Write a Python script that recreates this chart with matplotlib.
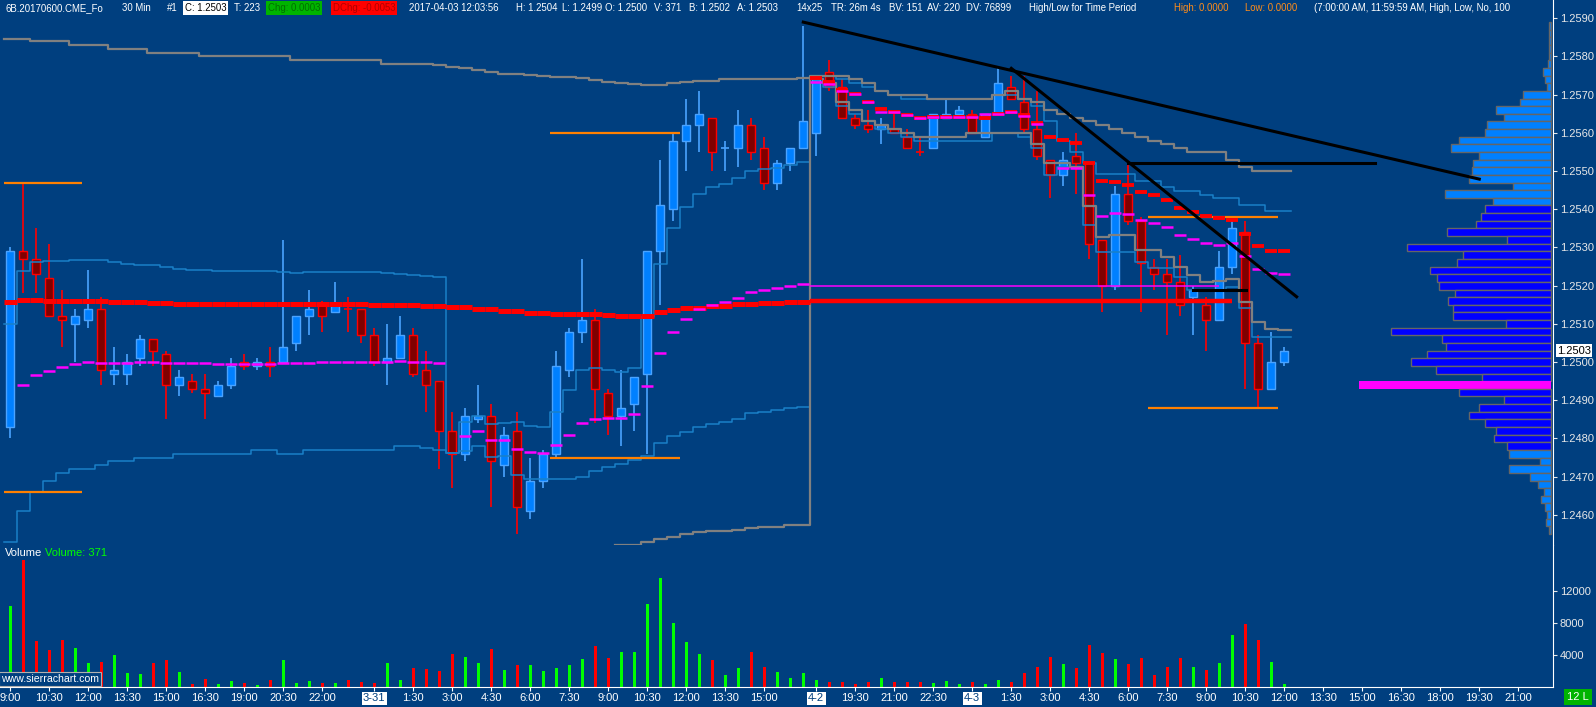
import numpy as np
import matplotlib
matplotlib.use("Agg")
import matplotlib.pyplot as plt
from matplotlib.patches import Rectangle

plt.rcParams["font.family"] = ["Liberation Sans", "DejaVu Sans"]

BG = "#003f7f"
W, H = 1596, 707

# ---- 30 min bars, 6B (Mar 30 09:00 .. Apr 3 12:00) ----
opens = [1.2483, 1.2529, 1.2527, 1.2522, 1.2512, 1.2510, 1.2511, 1.2514, 1.2497, 1.2497,
         1.2501, 1.2506, 1.2502, 1.2494, 1.2495, 1.2493, 1.2491, 1.2494, 1.2500, 1.2499,
         1.2500, 1.2500, 1.2505, 1.2512, 1.2515, 1.2513, 1.2514, 1.2514, 1.2507, 1.2500,
         1.2501, 1.2507, 1.2498, 1.2495, 1.2482, 1.2476, 1.2485, 1.2486, 1.2473, 1.2482,
         1.2461, 1.2469, 1.2476, 1.2498, 1.2508, 1.2511, 1.2492, 1.2486, 1.2489, 1.2497,
         1.2529, 1.2540, 1.2558, 1.2562, 1.2564, 1.2556, 1.2556, 1.2562, 1.2556, 1.2547,
         1.2552, 1.2556, 1.2560, 1.2576, 1.2572, 1.2564, 1.2562, 1.2561, 1.2561, 1.2559,
         1.2555, 1.2556, 1.2564, 1.2565, 1.2565, 1.2559, 1.2565, 1.2572, 1.2568, 1.2561,
         1.2553, 1.2549, 1.2554, 1.2552, 1.2532, 1.2520, 1.2544, 1.2537, 1.2525, 1.2523,
         1.2521, 1.2517, 1.2515, 1.2511, 1.2525, 1.2534, 1.2505, 1.2493, 1.2500]
highs = [1.2530, 1.2547, 1.2535, 1.2531, 1.2519, 1.2514, 1.2524, 1.2517, 1.2504, 1.2502,
         1.2507, 1.2506, 1.2503, 1.2498, 1.2497, 1.2497, 1.2495, 1.2501, 1.2502, 1.2501,
         1.2504, 1.2532, 1.2512, 1.2519, 1.2516, 1.2521, 1.2517, 1.2514, 1.2509, 1.2510,
         1.2512, 1.2509, 1.2503, 1.2495, 1.2487, 1.2488, 1.2494, 1.2489, 1.2483, 1.2487,
         1.2475, 1.2477, 1.2503, 1.2509, 1.2527, 1.2514, 1.2493, 1.2498, 1.2496, 1.2529,
         1.2553, 1.2560, 1.2569, 1.2571, 1.2564, 1.2558, 1.2566, 1.2564, 1.2559, 1.2553,
         1.2556, 1.2588, 1.2575, 1.2579, 1.2574, 1.2565, 1.2566, 1.2564, 1.2565, 1.2561,
         1.2559, 1.2565, 1.2569, 1.2567, 1.2566, 1.2565, 1.2577, 1.2575, 1.2575, 1.2571,
         1.2553, 1.2555, 1.2560, 1.2552, 1.2532, 1.2546, 1.2552, 1.2538, 1.2527, 1.2527,
         1.2528, 1.2520, 1.2517, 1.2529, 1.2537, 1.2537, 1.2507, 1.2508, 1.2504]
lows = [1.2480, 1.2518, 1.2518, 1.2512, 1.2504, 1.2500, 1.2509, 1.2494, 1.2494, 1.2494,
        1.2499, 1.2499, 1.2485, 1.2491, 1.2492, 1.2485, 1.2491, 1.2493, 1.2498, 1.2498,
        1.2496, 1.2500, 1.2503, 1.2507, 1.2508, 1.2513, 1.2508, 1.2505, 1.2499, 1.2494,
        1.2501, 1.2496, 1.2487, 1.2472, 1.2467, 1.2474, 1.2484, 1.2462, 1.2470, 1.2455,
        1.2459, 1.2467, 1.2475, 1.2496, 1.2505, 1.2484, 1.2481, 1.2478, 1.2482, 1.2476,
        1.2515, 1.2537, 1.2550, 1.2555, 1.2550, 1.2550, 1.2551, 1.2553, 1.2545, 1.2545,
        1.2550, 1.2556, 1.2554, 1.2571, 1.2564, 1.2561, 1.2560, 1.2557, 1.2560, 1.2556,
        1.2554, 1.2556, 1.2564, 1.2565, 1.2560, 1.2559, 1.2565, 1.2569, 1.2560, 1.2553,
        1.2543, 1.2546, 1.2544, 1.2527, 1.2513, 1.2519, 1.2536, 1.2513, 1.2519, 1.2507,
        1.2512, 1.2507, 1.2503, 1.2511, 1.2523, 1.2493, 1.2488, 1.2493, 1.2499]
closes = [1.2529, 1.2527, 1.2523, 1.2512, 1.2511, 1.2512, 1.2514, 1.2498, 1.2498, 1.2500,
          1.2506, 1.2503, 1.2494, 1.2496, 1.2493, 1.2492, 1.2494, 1.2499, 1.2499, 1.2500,
          1.2499, 1.2504, 1.2512, 1.2514, 1.2512, 1.2515, 1.2514, 1.2507, 1.2500, 1.2501,
          1.2507, 1.2497, 1.2494, 1.2482, 1.2476, 1.2486, 1.2486, 1.2474, 1.2481, 1.2462,
          1.2469, 1.2476, 1.2499, 1.2508, 1.2511, 1.2493, 1.2486, 1.2488, 1.2496, 1.2529,
          1.2541, 1.2558, 1.2562, 1.2565, 1.2555, 1.2556, 1.2562, 1.2555, 1.2547, 1.2552,
          1.2556, 1.2563, 1.2574, 1.2572, 1.2564, 1.2562, 1.2561, 1.2562, 1.2560, 1.2556,
          1.2555, 1.2565, 1.2565, 1.2566, 1.2560, 1.2565, 1.2573, 1.2569, 1.2561, 1.2554,
          1.2549, 1.2553, 1.2552, 1.2531, 1.2520, 1.2544, 1.2537, 1.2526, 1.2523, 1.2521,
          1.2515, 1.2519, 1.2511, 1.2525, 1.2535, 1.2505, 1.2493, 1.2500, 1.2503]
volume = [10100, 15900, 5750, 4600, 5900, 4900, 3000, 3100, 4000, 1750,
          1600, 3000, 3400, 1900, 380, 1000, 380, 750, 460, 250,
          880, 3400, 540, 750, 460, 540, 880, 670, 540, 2960,
          880, 2420, 2250, 2000, 4130, 3790, 2960, 4750, 2130, 2750,
          2750, 2000, 2420, 2750, 3540, 5170, 3670, 4420, 4420, 10420,
          13670, 8040, 5670, 4170, 3420, 1540, 2420, 4420, 2540, 1920,
          1170, 1790, 920, 670, 580, 420, 670, 1170, 670, 580,
          580, 540, 790, 420, 670, 420, 920, 580, 1790, 2540,
          3790, 2920, 2420, 5290, 4290, 3540, 2920, 3670, 1500, 2540,
          3670, 2540, 2170, 3040, 6500, 7920, 5920, 3130, 371]

# ---- studies ----
# thick red average, first part (bars 0..61) and new session (bars 62..98)
red_a = [1.25158, 1.25163, 1.25163, 1.25161, 1.25161, 1.25161, 1.25161, 1.25161, 1.25158, 1.25158,
         1.25158, 1.25155, 1.25155, 1.25153, 1.25153, 1.25153, 1.25153, 1.25153, 1.25153, 1.25153,
         1.25153, 1.25153, 1.25153, 1.25153, 1.25153, 1.25153, 1.25153, 1.25153, 1.25150, 1.25150,
         1.25150, 1.25150, 1.25148, 1.25148, 1.25144, 1.25144, 1.25140, 1.25140, 1.25135, 1.25135,
         1.25129, 1.25129, 1.25127, 1.25127, 1.25127, 1.25127, 1.25124, 1.25121, 1.25121, 1.25121,
         1.25132, 1.25137, 1.25142, 1.25142, 1.25147, 1.25147, 1.25151, 1.25151, 1.25155, 1.25155,
         1.25158, 1.25158]
red_b = [1.25744, 1.25734, 1.25711, 1.25703, 1.25682, 1.25662, 1.25654, 1.25648, 1.25640, 1.25642,
         1.25642, 1.25642, 1.25642, 1.25640, 1.25650, 1.25654, 1.25647, 1.25625, 1.25590, 1.25581,
         1.25574, 1.25522, 1.25475, 1.25472, 1.25464, 1.25446, 1.25438, 1.25424, 1.25404, 1.25393,
         1.25383, 1.25376, 1.25373, 1.25335, 1.25305, 1.25292, 1.25292]
red_prev = 1.25161

# magenta vwap per session (nan = hidden)
vwap_1 = [np.nan, 1.24940, 1.24966, 1.24977, 1.24987, 1.24995, 1.25000, 1.24997, 1.24997, 1.24997,
          1.25000, 1.25000, 1.24997, 1.24997, 1.24997, 1.24997, 1.24995, 1.24995, 1.24995, 1.24995,
          1.24995, 1.24997, 1.24997, 1.24997, 1.25000, 1.25000, 1.25000, 1.25000, 1.25000, 1.25000,
          1.25003, 1.25000, 1.25000, 1.24997]
vwap_2 = [np.nan, 1.24807, 1.24820, 1.24796, 1.24796, 1.24773, 1.24765, 1.24763, 1.24783, 1.24809,
          1.24841, 1.24851, 1.24854, 1.24854, 1.24864, 1.24937, 1.25025, 1.25080, 1.25114, 1.25138,
          1.25150, 1.25158, 1.25169, 1.25184, 1.25190, 1.25195, 1.25200, 1.25205]
vwap_3 = [1.25734, 1.25727, 1.25710, 1.25703, 1.25682, 1.25656, 1.25656, 1.25648, 1.25640, 1.25642,
          1.25642, 1.25642, 1.25642, 1.25649, 1.25649, 1.25654, 1.25645, 1.25624, np.nan, 1.25509,
          1.25509, 1.25437, 1.25383, 1.25390, 1.25388, 1.25373, 1.25364, 1.25354, 1.25333, 1.25322,
          1.25312, 1.25307, 1.25312, 1.25279, 1.25244, 1.25233, 1.25231]
vwap_prev = 1.25200

# blue std bands
band_up_1 = [1.25099, 1.25238, 1.25261, 1.25265, 1.25265, 1.25267, 1.25267, 1.25267, 1.25261, 1.25256,
             1.25253, 1.25253, 1.25248, 1.25243, 1.25241, 1.25241, 1.25238, 1.25238, 1.25238, 1.25238,
             1.25238, 1.25235, 1.25232, 1.25235, 1.25235, 1.25235, 1.25235, 1.25235, 1.25235, 1.25232,
             1.25230, 1.25227, 1.25225, 1.25222]
band_up_2 = [1.24761, 1.24844, 1.24859, 1.24838, 1.24840, 1.24844, 1.24833, 1.24829, 1.24870, 1.24927,
             1.24979, 1.24984, 1.24979, 1.24975, 1.24984, 1.25119, 1.25257, 1.25350, 1.25405, 1.25439,
             1.25458, 1.25465, 1.25481, 1.25500, 1.25505, 1.25507, 1.25516, 1.25523]
band_up_3 = [1.2575, 1.2575, 1.2574, 1.2573, 1.2572, 1.2571, 1.2570, 1.2569, 1.2569, 1.2569,
             1.2569, 1.2569, 1.2569, 1.2569, 1.2570, 1.2570, 1.2569, 1.2567, 1.2563, 1.2558,
             1.2555, 1.2552, 1.25492, 1.25492, 1.25492, 1.25475, 1.25475, 1.25458, 1.25449, 1.25449,
             1.25437, 1.25429, 1.25429, 1.25411, 1.25411, 1.25396, 1.25396]
band_lo_1 = [1.2453, 1.2461, 1.2466, 1.2469, 1.2471, 1.2472, 1.2472, 1.2473, 1.2474, 1.2474,
             1.2475, 1.2475, 1.2475, 1.2476, 1.2476, 1.2476, 1.2476, 1.2476, 1.2476, 1.2477,
             1.2477, 1.2476, 1.2476, 1.2477, 1.2477, 1.2477, 1.2477, 1.2477, 1.2477, 1.2477,
             1.2478, 1.2478, 1.24774, 1.24771]
band_lo_2 = [1.24761, 1.24768, 1.24781, 1.24751, 1.24754, 1.24704, 1.24694, 1.24693, 1.24694, 1.24694,
             1.24700, 1.24716, 1.24725, 1.24732, 1.24744, 1.24754, 1.24789, 1.24807, 1.24818, 1.24829,
             1.24838, 1.24844, 1.24850, 1.24866, 1.24870, 1.24875, 1.24879, 1.24883]
band_lo_3 = [1.2574, 1.2572, 1.2567, 1.2565, 1.2563, 1.2561, 1.2560, 1.2559, 1.2558, 1.2558,
             1.2558, 1.2558, 1.2558, 1.2558, 1.2560, 1.2560, 1.2559, 1.2556, 1.2549, 1.2551,
             1.2551, 1.25359, 1.25289, 1.25289, 1.25289, 1.25263, 1.25246, 1.25246, 1.25224, 1.25189,
             1.25189, 1.25189, 1.25197, 1.25141, 1.25067, 1.25067, 1.25067]

# gray envelope
gray_up_a = [1.25845, 1.25845, 1.2584, 1.2584, 1.2584, 1.2583, 1.2583, 1.2583, 1.2582, 1.2582,
             1.2582, 1.2581, 1.2581, 1.2581, 1.2581, 1.2580, 1.2580, 1.2580, 1.2580, 1.2580,
             1.2580, 1.2580, 1.2579, 1.2579, 1.2579, 1.2579, 1.2579, 1.2579, 1.2579, 1.2578,
             1.2578, 1.2578, 1.25781, 1.25777, 1.25773, 1.25769, 1.25764, 1.25759, 1.25755, 1.25753,
             1.25751, 1.25749, 1.25746, 1.25746, 1.25744, 1.25738, 1.25734, 1.25731, 1.25728, 1.25726,
             1.25726, 1.25730, 1.25734, 1.25737, 1.25737, 1.25740, 1.25740, 1.25742, 1.25742, 1.25742,
             1.25742, 1.25745]
gray_up_b = [1.2575, 1.2575, 1.2575, 1.2574, 1.2573, 1.2571, 1.2570, 1.2570, 1.2570, 1.2569,
             1.2569, 1.2569, 1.2569, 1.2569, 1.2570, 1.2571, 1.2569, 1.2568, 1.2566, 1.2565,
             1.2564, 1.2563, 1.2562, 1.2561, 1.2560, 1.2559, 1.2558, 1.2557, 1.2556, 1.2555,
             1.2555, 1.2555, 1.2553, 1.2551, 1.2550, 1.2550, 1.2550]
gray_lo_a = [1.2452, 1.2452, 1.2453, 1.24537, 1.24541, 1.24550, 1.24555, 1.24559, 1.24559, 1.24560,
             1.24566, 1.24569, 1.24569, 1.24573, 1.24573]          # bars 47..61
gray_lo_b = [1.2574, 1.2573, 1.2568, 1.2566, 1.2563, 1.2562, 1.2561, 1.2560, 1.2559, 1.2559,
             1.2559, 1.2559, 1.2560, 1.2560, 1.2560, 1.2560, 1.2560, 1.2557, 1.2552, 1.2552,
             1.2551, 1.25409, 1.25328, 1.25333, 1.25333, 1.25293, 1.25293, 1.25276, 1.25248, 1.25228,
             1.25210, 1.25213, 1.25217, 1.25158, 1.25104, 1.25086, 1.25084]

# high/low for time period 7:00-11:59 (first bar, last bar, high, low)
period_start = [-0.5, 41.5, 87.5]
period_end = [5.5, 51.5, 97.5]
period_high = [1.2547, 1.2560, 1.2538]
period_low = [1.2466, 1.2475, 1.2488]

# hand drawn lines (bar, price) anchors
trend_lines = [((61.0, 1.25890), (113.0, 1.25479)),
               ((77.0, 1.25769), (98.95, 1.25171)),
               ((86.0, 1.25522), (105.0, 1.25522)),
               ((91.0, 1.25189), (95.05, 1.25189))]

# volume profile
prof_price = [1.2588, 1.2586, 1.2584, 1.2582, 1.2580, 1.2578, 1.2576, 1.2574, 1.2572, 1.2570,
              1.2568, 1.2566, 1.2564, 1.2562, 1.2560, 1.2558, 1.2556, 1.2554, 1.2552, 1.2550,
              1.2548, 1.2546, 1.2544, 1.2542, 1.2540, 1.2538, 1.2536, 1.2534, 1.2532, 1.2530,
              1.2528, 1.2526, 1.2524, 1.2522, 1.2520, 1.2518, 1.2516, 1.2514, 1.2512, 1.2510,
              1.2508, 1.2506, 1.2504, 1.2502, 1.2500, 1.2498, 1.2496, 1.2494, 1.2492, 1.2490,
              1.2488, 1.2486, 1.2484, 1.2482, 1.2480, 1.2478, 1.2476, 1.2474, 1.2472, 1.2470,
              1.2468, 1.2466, 1.2464, 1.2462, 1.2460, 1.2458, 1.2456]
prof_vol = [17, 17, 17, 17, 17, 27, 77, 57, 37, 277,
            307, 547, 467, 643, 657, 917, 1003, 717, 777, 787,
            817, 377, 1057, 577, 663, 703, 753, 1043, 443, 1443,
            877, 943, 1210, 1143, 1123, 957, 1033, 983, 983, 453,
            1603, 1090, 1053, 1243, 1403, 1153, 690, 1920, 923, 467,
            723, 823, 663, 553, 573, 440, 417, 107, 423, 207,
            127, 67, 97, 57, 40, 47, 17]
VA_HIGH, VA_LOW, POC = 1.2540, 1.2478, 1.2494

# time axis
tick_bars = [0, 3, 6, 9, 12, 15, 18, 21, 24, 28, 31, 34, 37, 40, 43, 46, 49, 52, 55, 58,
             62, 65, 68, 71, 74, 77, 80, 83, 86, 89, 92, 95, 98, 101, 104, 107, 110, 113, 116]
tick_labels = ["9:00", "10:30", "12:00", "13:30", "15:00", "16:30", "19:00", "20:30", "22:00", "3-31",
               "1:30", "3:00", "4:30", "6:00", "7:30", "9:00", "10:30", "12:00", "13:30", "15:00",
               "4-2", "19:30", "21:00", "22:30", "4-3", "1:30", "3:00", "4:30", "6:00", "7:30",
               "9:00", "10:30", "12:00", "13:30", "15:00", "16:30", "18:00", "19:30", "21:00"]
date_labels = ["3-31", "4-2", "4-3"]
price_ticks = [1.2460, 1.2470, 1.2480, 1.2490, 1.2500, 1.2510, 1.2520,
               1.2530, 1.2540, 1.2550, 1.2560, 1.2570, 1.2580, 1.2590]
last_price = 1.2503


def steps(vals, start):
    v = np.asarray(vals, float)
    i = np.arange(len(v)) + start
    return np.column_stack([i - 0.5, i + 0.5]).ravel(), np.repeat(v, 2)


fig = plt.figure(figsize=(W / 100, H / 100), dpi=100, facecolor=BG)
ax = fig.add_axes([0, 162 / H, 1553 / W, 545 / H], facecolor=BG)
axv = fig.add_axes([0, 20 / H, 1553 / W, 142 / H], facecolor=BG, sharex=ax)

ax.set_xlim(-0.792, 118.67)
ax.set_ylim(1.245212, 1.259479)
axv.set_ylim(0, 17750)

# volume profile (right side, anchored at the price scale)
x_right = 118.52
for p, v in zip(prof_price, prof_vol):
    w = v / 10 / 13
    if abs(p - POC) < 1e-6:
        ax.barh(p, -w, left=x_right, height=0.0002, color="#ff00ff", lw=0, zorder=1.5)
    else:
        col = "#0000ff" if VA_LOW - 1e-6 <= p <= VA_HIGH + 1e-6 else "#0080ff"
        ax.barh(p, -w, left=x_right, height=0.0002, color=col,
                edgecolor="#666666", lw=1.0, zorder=1.5)

# candles
up_flags = []
prev_c = opens[0]
for i, (o, h, l, c) in enumerate(zip(opens, highs, lows, closes)):
    up = c > o or (c == o and c >= prev_c)
    prev_c = c
    up_flags.append(up)
    wick = "#4aa3ff" if up else "#ff0000"
    ax.vlines(i, l, h, color=wick, lw=1.2, zorder=2)
    if c == o:
        ax.hlines(o, i - 0.31, i + 0.31, color=wick, lw=1.2, zorder=2.5)
    elif up:
        ax.add_patch(Rectangle((i - 0.31, o), 0.62, c - o, facecolor="#0080ff",
                               edgecolor="#4aa3ff", lw=1.0, zorder=2.5))
    else:
        ax.add_patch(Rectangle((i - 0.31, c), 0.62, o - c, facecolor="#800000",
                               edgecolor="#ff0000", lw=1.0, zorder=2.5))

# bands
band_up = band_up_1 + band_up_2 + band_up_3
band_lo = band_lo_1 + band_lo_2 + band_lo_3
for vals in (band_up, band_lo):
    x, y = steps(vals, 0)
    ax.plot(x, y, color="#1a80c8", lw=1.1, zorder=3)
x, y = steps(gray_up_a + gray_up_b, 0)
ax.plot(x, y, color="#808080", lw=1.6, zorder=3.1)
x, y = steps(gray_lo_a + gray_lo_b, 47)
ax.plot(x, y, color="#808080", lw=1.6, zorder=3.1)

# red average
ia = np.arange(len(red_a))
ax.hlines(red_a, ia - 0.5, ia + 0.5, color="#ff0000", lw=3.6, zorder=4)
ib = np.arange(len(red_b)) + 62
ax.hlines(red_b, ib - 0.45, ib + 0.45, color="#ff0000", lw=2.8, zorder=4)
ax.hlines(red_prev, 61.5, 94.0, color="#ff0000", lw=3.2, zorder=4)

# vwap dashes
vw = np.array(vwap_1 + vwap_2 + vwap_3)
iv = np.arange(len(vw))
ok = ~np.isnan(vw)
ax.hlines(vw[ok], iv[ok] - 0.45, iv[ok] + 0.45, color="#ff00ff", lw=1.8, zorder=5)
ax.hlines(vwap_prev, 61.5, 93.0, color="#ff00ff", lw=1.1, zorder=5)

# period high / low
for s, e, hi, lo in zip(period_start, period_end, period_high, period_low):
    ax.hlines([hi, lo], s, e, color="#ff8000", lw=1.6, zorder=3.5)

# trend lines
for (x0, y0), (x1, y1) in trend_lines:
    ax.plot([x0, x1], [y0, y1], color="black", lw=2.2, zorder=6)

# volume bars
vcol = ["#00ff00" if u else "#ff0000" for u in up_flags]
axv.bar(np.arange(len(volume)), volume, width=0.22, color=vcol, zorder=2)

# axes styling
for a in (ax, axv):
    for s in a.spines.values():
        s.set_visible(False)
    a.spines["right"].set_visible(True)
    a.spines["right"].set_color("white")
axv.spines["bottom"].set_visible(True)
axv.spines["bottom"].set_color("white")

ax.yaxis.tick_right()
ax.set_yticks(price_ticks)
ax.set_yticklabels([f"{t:.4f}" for t in price_ticks])
ax.tick_params(axis="y", colors="#e8e8e8", labelsize=8, length=3, pad=2)
ax.tick_params(axis="x", bottom=False, labelbottom=False)

axv.yaxis.tick_right()
axv.set_yticks([4000, 8000, 12000])
axv.set_yticklabels(["4000", "8000", "12000"])
axv.tick_params(axis="y", colors="#e8e8e8", labelsize=8, length=3, pad=2)
axv.set_xticks(tick_bars)
axv.set_xticklabels(tick_labels)
axv.tick_params(axis="x", colors="white", labelsize=8, length=3, pad=1.5)
for lab in axv.get_xticklabels():
    if lab.get_text() in date_labels:
        lab.set_color(BG)
        lab.set_bbox(dict(facecolor="white", edgecolor="none", pad=1.0))

ax.text(1.0025, last_price, f"{last_price:.4f}", transform=ax.get_yaxis_transform(),
        ha="left", va="center", fontsize=8, color="black", zorder=10, clip_on=False,
        bbox=dict(facecolor="white", edgecolor="none", pad=1.0))

# header line
def head(px, s, color="white", box=None):
    ax.text(px / 1553, 1 - 8 / 545, s, transform=ax.transAxes, ha="left", va="center",
            fontsize=6.9, color=color, bbox=box, clip_on=True, zorder=12)


head(5, "6B.20170600.CME_Fo")
head(122, "30 Min")
head(167, "#1")
head(185, "C: 1.2503", "black", dict(facecolor="white", edgecolor="none", pad=1.2))
head(234, "T: 223")
head(268, "Chg: 0.0003", "#007000", dict(facecolor="#00b400", edgecolor="none", pad=1.2))
head(333, "DChg: -0.0053", "#b00000", dict(facecolor="#ff0000", edgecolor="none", pad=1.2))
head(409, "2017-04-03 12:03:56")
head(516, "H: 1.2504")
head(562, "L: 1.2499")
head(605, "O: 1.2500")
head(654, "V: 371")
head(689, "B: 1.2502")
head(737, "A: 1.2503")
head(796, "14x25")
head(831, "TR: 26m 4s")
head(889, "BV: 151")
head(927, "AV: 220")
head(966, "DV: 76899")
head(1029, "High/Low for Time Period")
head(1174, "High: 0.0000", "#ff8c1a")
head(1245, "Low: 0.0000", "#ff8c1a")
head(1314, "(7:00:00 AM, 11:59:59 AM, High, Low, No, 100")

axv.text(5 / 1553, (687 - 553) / 142, "Volume", transform=axv.transAxes, ha="left",
         va="center", fontsize=8, color="white")
axv.text(45 / 1553, (687 - 553) / 142, "Volume: 371", transform=axv.transAxes, ha="left",
         va="center", fontsize=8, color="#00ff00")

fig.text(1 / W, 1 - 679 / H, "www.sierrachart.com", color="white", fontsize=7.6, va="center",
         ha="left", bbox=dict(facecolor=BG, edgecolor="#b0b0b0", lw=0.8, pad=1.5), zorder=10)
fig.text(1567 / W, 1 - 697 / H, "12 L", color="white", fontsize=8, va="center", ha="left",
         bbox=dict(facecolor="#00b400", edgecolor="none", pad=2))

fig.savefig("out.png", dpi=100, facecolor=BG)
